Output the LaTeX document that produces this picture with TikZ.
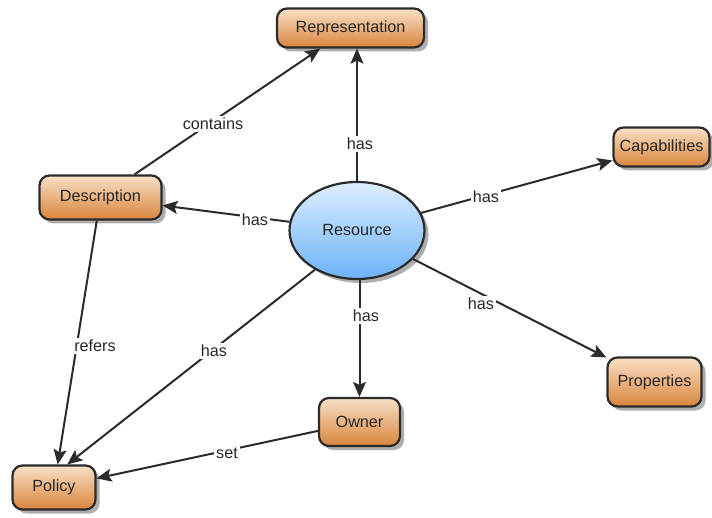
\documentclass[tikz,border=0pt]{standalone}
\usepackage{fontspec}
\setmainfont{Liberation Sans}
\usetikzlibrary{shapes.geometric,shadows,arrows.meta}
\definecolor{boxtop}{HTML}{F9E0C6}
\definecolor{boxbot}{HTML}{D9853C}
\definecolor{elltop}{HTML}{DDEEFF}
\definecolor{ellbot}{HTML}{6CB2F7}
\definecolor{ink}{HTML}{2B2B2B}
\definecolor{shade}{HTML}{9A9A9A}
\tikzset{
  txt/.style={font=\fontsize{16.2}{19}\selectfont, text=ink!90!black},
  concept/.style={txt, draw=ink, line width=2.2pt, rounded corners=10pt,
    top color=boxtop, bottom color=boxbot, inner sep=0pt,
    drop shadow={shadow xshift=4pt, shadow yshift=-4pt, fill=shade, opacity=0.8}},
  hub/.style={txt, ellipse, draw=ink, line width=2.2pt, inner sep=0pt,
    top color=elltop, bottom color=ellbot,
    drop shadow={shadow xshift=4pt, shadow yshift=-4pt, fill=shade, opacity=0.8}},
  link/.style={draw=ink, line width=2pt, -{Stealth[length=15pt,width=13pt,inset=3pt]}},
  lbl/.style={txt, fill=white, inner sep=2pt}
}
\begin{document}
\begin{tikzpicture}[x=1pt, y=-1pt]
  \useasboundingbox[fill=white] (0,0) rectangle (712,518);

  % concepts
  \node[concept, minimum width=147pt, minimum height=39pt] (Rep)  at (350.5,28)  {Representation};
  \node[concept, minimum width=96pt,  minimum height=39pt] (Cap)  at (661.5,147) {Capabilities};
  \node[concept, minimum width=122pt, minimum height=44pt] (Desc) at (100.5,197.5) {Description};
  \node[hub,     minimum width=135pt, minimum height=97pt] (Res)  at (357,230.5) {Resource};
  \node[concept, minimum width=94pt,  minimum height=49pt] (Prop) at (654.5,382) {Properties};
  \node[concept, minimum width=81pt,  minimum height=48pt] (Own)  at (359.5,422) {Owner};
  \node[concept, minimum width=83pt,  minimum height=44pt] (Pol)  at (54,487.5) {Policy};

  % links with their labels
  \draw[link] (Desc) -- (Rep)  node[lbl] at (213,124) {contains};
  \draw[link] (Res.north) -- (Rep.south -| Res.north) node[lbl] at (360,144) {has};
  \draw[link] (Res) -- (Cap)   node[lbl] at (486,197) {has};
  \draw[link] (Res) -- (Desc)  node[lbl] at (255,220) {has};
  \draw[link] (Desc) -- (Pol)  node[lbl] at (95,346) {refers};
  \draw[link] (Res.223) -- (Pol.60) node[lbl] at (214,351) {has};
  \draw[link] (Res.south -| Own.north) -- (Own.north) node[lbl] at (366,316) {has};
  \draw[link] (Res) -- (Prop)  node[lbl] at (481,304) {has};
  \draw[link] (Own) -- (Pol)   node[lbl] at (227,453) {set};
\end{tikzpicture}
\end{document}
